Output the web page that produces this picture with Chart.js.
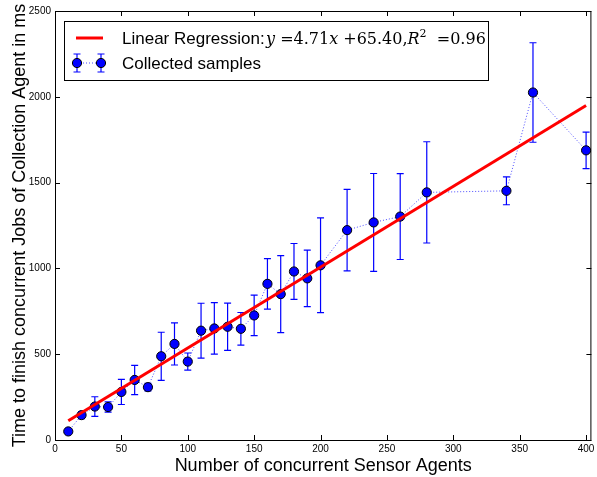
<!DOCTYPE html>
<html>
<head>
<meta charset="utf-8">
<script src="https://cdn.jsdelivr.net/npm/chart.js@4/dist/chart.umd.min.js"></script>
<style>
  html, body { margin: 0; padding: 0; background: #fff; }
</style>
</head>
<body>
<canvas id="chart" width="597" height="477"></canvas>
<script>
// values
const agents = [10, 20, 30, 40, 50, 60, 70, 80, 90, 100, 110, 120, 130, 140, 150, 160, 170, 180, 190, 200, 220, 240, 260, 280, 340, 360, 400];
const times  = [50, 145, 195, 192, 280, 350, 308, 488, 560, 457, 637, 650, 660, 648, 726, 910, 850, 982, 942, 1018, 1223, 1268, 1302, 1443, 1452, 2025, 1688];
const errors = [12, 20, 57, 30, 73, 85, 22, 140, 123, 50, 160, 150, 138, 95, 118, 147, 224, 163, 165, 276, 238, 285, 250, 295, 81, 290, 106];
const regressionX = [10, 400];
const regressionY = [112.5, 1949.4];
const xTicks = [0, 50, 100, 150, 200, 250, 300, 350, 400];
const yTicks = [0, 500, 1000, 1500, 2000, 2500];

const sansFont = '"Liberation Sans", Arial, sans-serif';
const serifFont = '"DejaVu Serif", "Liberation Serif", serif';

function errorBar(ctx, x, yTop, yBottom, cap) {
  ctx.beginPath();
  ctx.moveTo(x, yTop);
  ctx.lineTo(x, yBottom);
  ctx.moveTo(x - cap, yTop);
  ctx.lineTo(x + cap, yTop);
  ctx.moveTo(x - cap, yBottom);
  ctx.lineTo(x + cap, yBottom);
  ctx.stroke();
}

function marker(ctx, x, y) {
  ctx.beginPath();
  ctx.arc(x, y, 4.6, 0, Math.PI * 2);
  ctx.fillStyle = '#0000ff';
  ctx.fill();
  ctx.lineWidth = 1;
  ctx.strokeStyle = '#000';
  ctx.stroke();
}

const errorBarPlugin = {
  id: 'errorBars',
  beforeDatasetDraw(chart, args) {
    if (args.index !== 1) return;
    const { ctx, scales } = chart;
    ctx.save();
    ctx.strokeStyle = '#0000ff';
    ctx.lineWidth = 1.2;
    agents.forEach((a, i) => {
      const px = scales.x.getPixelForValue(a);
      const top = scales.y.getPixelForValue(times[i] + errors[i]);
      const bottom = scales.y.getPixelForValue(times[i] - errors[i]);
      errorBar(ctx, px, top, bottom, 3.5);
    });
    ctx.restore();
  }
};

const framePlugin = {
  id: 'frame',
  afterDraw(chart) {
    const { ctx, chartArea: a, scales } = chart;
    ctx.save();
    ctx.strokeStyle = '#000';
    ctx.lineWidth = 1;
    ctx.strokeRect(a.left + 0.5, a.top + 0.5, a.right - a.left - 1, a.bottom - a.top);
    ctx.beginPath();
    xTicks.forEach(v => {
      const px = Math.round(scales.x.getPixelForValue(v)) + 0.5;
      ctx.moveTo(px, a.bottom); ctx.lineTo(px, a.bottom - 5);
      ctx.moveTo(px, a.top); ctx.lineTo(px, a.top + 5);
    });
    yTicks.forEach(v => {
      const py = Math.round(scales.y.getPixelForValue(v)) + 0.5;
      ctx.moveTo(a.left, py); ctx.lineTo(a.left + 5, py);
      ctx.moveTo(a.right, py); ctx.lineTo(a.right - 5, py);
    });
    ctx.stroke();
    ctx.restore();
  }
};

// legend box in the top left corner, like the matplotlib one
const legendPlugin = {
  id: 'boxLegend',
  afterDraw(chart) {
    const { ctx } = chart;
    ctx.save();
    ctx.fillStyle = '#fff';
    ctx.fillRect(64, 21, 424, 59);
    ctx.strokeStyle = '#000';
    ctx.lineWidth = 1;
    ctx.strokeRect(64.5, 21.5, 424, 59);

    // regression sample
    ctx.strokeStyle = '#ff0000';
    ctx.lineWidth = 3;
    ctx.beginPath();
    ctx.moveTo(76, 38); ctx.lineTo(103, 38);
    ctx.stroke();

    // samples entry
    ctx.strokeStyle = 'rgba(0,0,255,0.7)';
    ctx.lineWidth = 1;
    ctx.setLineDash([1, 2]);
    ctx.beginPath();
    ctx.moveTo(77, 63); ctx.lineTo(101, 63);
    ctx.stroke();
    ctx.setLineDash([]);
    ctx.strokeStyle = '#0000ff';
    ctx.lineWidth = 1.2;
    errorBar(ctx, 77, 54, 72, 3.5);
    errorBar(ctx, 101, 54, 72, 3.5);
    marker(ctx, 77, 63);
    marker(ctx, 101, 63);

    ctx.fillStyle = '#000';
    ctx.textBaseline = 'alphabetic';
    ctx.font = '17px ' + sansFont;
    ctx.fillText('Linear Regression:', 122, 44);
    ctx.fillText('Collected samples', 122, 69);

    const runs = [
      ['y', 'italic 16px ' + serifFont, 0],
      [' =', '16px ' + serifFont, 0],
      ['4.71', '16px ' + serifFont, 0],
      ['x', 'italic 16px ' + serifFont, 0],
      [' +', '16px ' + serifFont, 0],
      ['65.40,', '16px ' + serifFont, 0],
      ['R', 'italic 16px ' + serifFont, 0],
      ['2', '11px ' + serifFont, -7],
      ['  =', '16px ' + serifFont, 0],
      ['0.96', '16px ' + serifFont, 0]
    ];
    let x = 266;
    runs.forEach(([t, f, dy]) => {
      ctx.font = f;
      ctx.fillText(t, x, 44 + dy);
      x += ctx.measureText(t).width;
    });
    ctx.restore();
  }
};

new Chart(document.getElementById('chart'), {
  type: 'line',
  data: {
    datasets: [
      {
        label: 'Linear Regression',
        data: regressionX.map((x, i) => ({ x, y: regressionY[i] })),
        borderColor: '#ff0000',
        borderWidth: 3,
        pointRadius: 0,
        fill: false
      },
      {
        label: 'Collected samples',
        data: agents.map((x, i) => ({ x, y: times[i] })),
        borderColor: 'rgba(0,0,255,0.7)',
        borderWidth: 1,
        borderDash: [1, 2],
        pointRadius: 4.6,
        pointBackgroundColor: '#0000ff',
        pointBorderColor: '#000',
        pointBorderWidth: 1,
        fill: false
      }
    ]
  },
  options: {
    responsive: false,
    animation: false,
    layout: { padding: { left: 0, right: 3, top: 11, bottom: 0 } },
    plugins: { legend: { display: false }, tooltip: { enabled: false } },
    scales: {
      x: {
        type: 'linear',
        min: 0, max: 404,
        afterBuildTicks: s => { s.ticks = xTicks.map(v => ({ value: v })); },
        afterFit: s => { s.height = 37; s.paddingLeft = 0; s.paddingRight = 0; },
        grid: { display: false, drawTicks: false },
        border: { display: false },
        ticks: { color: '#000', font: { size: 10, family: sansFont }, padding: 3, maxRotation: 0, callback: v => String(v) },
        title: { display: true, text: 'Number of concurrent Sensor Agents', color: '#000', font: { size: 18, family: sansFont }, padding: { top: 0, bottom: 0 } }
      },
      y: {
        min: 0, max: 2500,
        afterBuildTicks: s => { s.ticks = yTicks.map(v => ({ value: v })); },
        afterFit: s => { s.width = 55; s.paddingTop = 0; s.paddingBottom = 0; },
        grid: { display: false, drawTicks: false },
        border: { display: false },
        ticks: { color: '#000', font: { size: 10, family: sansFont }, padding: 4, callback: v => String(v) },
        title: { display: true, text: 'Time to finish concurrent Jobs of Collection Agent in ms', color: '#000', font: { size: 18, family: sansFont }, padding: { top: 9, bottom: 0 } }
      }
    }
  },
  plugins: [errorBarPlugin, framePlugin, legendPlugin]
});
</script>
</body>
</html>
